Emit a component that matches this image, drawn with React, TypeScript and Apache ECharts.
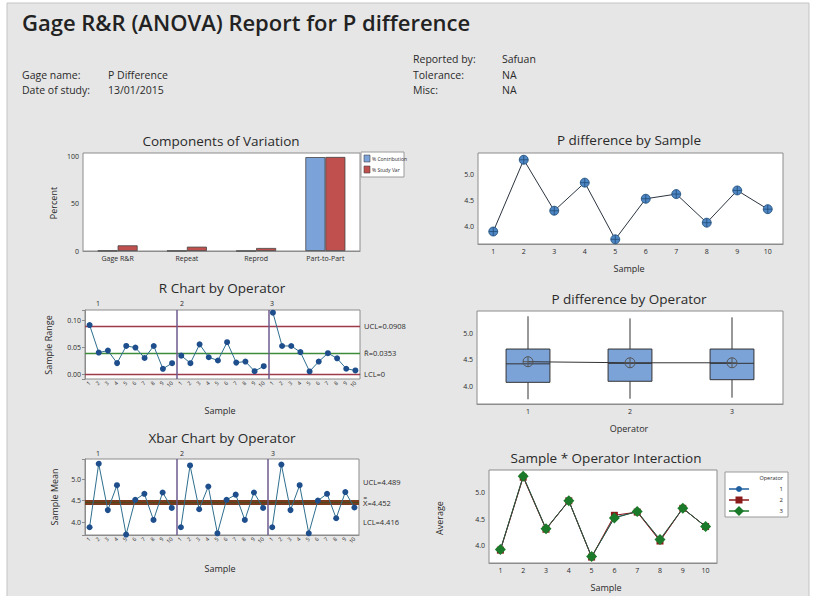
import React, { useEffect, useRef } from "react";
import * as echarts from "echarts";

// ---------- data ----------
const componentCats = ["Gage R&R", "Repeat", "Reprod", "Part-to-Part"];
const pctContribution = [0.36, 0.2, 0.1, 99.64];
const pctStudyVar = [6.0, 4.6, 3.2, 99.8];

const sampleLabels = ["1", "2", "3", "4", "5", "6", "7", "8", "9", "10"];
const sampleMeans = [3.91, 5.29, 4.31, 4.85, 3.76, 4.54, 4.63, 4.08, 4.7, 4.34];

const rOp1 = [0.092, 0.0407, 0.0444, 0.0211, 0.0531, 0.05, 0.0306, 0.053, 0.0105, 0.021];
const rOp2 = [0.035, 0.021, 0.056, 0.032, 0.026, 0.06, 0.022, 0.024, 0.006, 0.0154];
const rOp3 = [0.115, 0.053, 0.053, 0.0415, 0.0056, 0.024, 0.0396, 0.03, 0.0106, 0.0074];
const rUCL = 0.0908;
const rBar = 0.0353;
const rLCL = 0;

const xbarOp1 = [3.88, 5.36, 4.28, 4.86, 3.71, 4.52, 4.66, 4.05, 4.69, 4.33];
const xbarOp2 = [3.88, 5.32, 4.3, 4.83, 3.74, 4.52, 4.64, 4.05, 4.69, 4.33];
const xbarOp3 = [3.88, 5.34, 4.28, 4.86, 3.74, 4.5, 4.66, 4.09, 4.7, 4.34];
const xUCL = 4.489;
const xBar = 4.452;
const xLCL = 4.416;

const operators = ["1", "2", "3"];
// [lower whisker, Q1, median, Q3, upper whisker]
const boxStats = [
  [3.75, 4.07, 4.42, 4.7, 5.32],
  [3.76, 4.09, 4.43, 4.7, 5.28],
  [3.78, 4.12, 4.43, 4.7, 5.3],
];
const operatorMeans = [4.46, 4.44, 4.44];

const interOp1 = [3.92, 5.29, 4.31, 4.84, 3.79, 4.53, 4.64, 4.1, 4.7, 4.36];
const interOp2 = [3.92, 5.28, 4.31, 4.84, 3.79, 4.57, 4.63, 4.09, 4.7, 4.36];
const interOp3 = [3.93, 5.3, 4.32, 4.84, 3.8, 4.52, 4.64, 4.12, 4.7, 4.36];

// ---------- styling helpers ----------
const FONT = "'Open Sans', 'Noto Sans', sans-serif";
const BORDER = "#8c8c8c";
const TXT = "#2a2a2a";
const OP_COLORS = ["#1f5f9f", "#8b1a1a", "#1a7a2a"];
const crossCircle =
  "path://M0,10a10,10 0 1,0 20,0a10,10 0 1,0 -20,0M10,0V20M0,10H20";

const stepFmt = (step: number, dec: number) => (v: number) => {
  const k = v / step;
  return Math.abs(k - Math.round(k)) < 1e-6 ? v.toFixed(dec) : "";
};

const longSamples = [...sampleLabels, ...sampleLabels, ...sampleLabels];
const padOp = (arr: number[], op: number) =>
  longSamples.map((_, i) => (Math.floor(i / 10) === op ? arr[i % 10] : "-"));

function text(x: number, y: number, t: string, size: number, opts: any = {}) {
  const align = opts.align || "left";
  return {
    type: "text",
    x,
    y,
    rotation: opts.rotation || 0,
    silent: true,
    z: 10,
    style: {
      text: t,
      fontSize: size,
      fontFamily: FONT,
      fontWeight: opts.weight || "normal",
      fill: opts.color || TXT,
      align,
      textAlign: align,
      verticalAlign: "middle",
      textVerticalAlign: "middle",
    },
  };
}

function grid(left: number, top: number, width: number, height: number) {
  return {
    left,
    top,
    width,
    height,
    show: true,
    backgroundColor: "#ffffff",
    borderColor: BORDER,
    borderWidth: 1,
  };
}

const axisBase = {
  axisLine: { lineStyle: { color: BORDER } },
  axisTick: { length: 3, lineStyle: { color: BORDER } },
  splitLine: { show: false },
};

function catX(data: string[], gridIndex: number, extra: any = {}) {
  return {
    type: "category",
    data,
    gridIndex,
    ...axisBase,
    axisTick: { ...axisBase.axisTick, alignWithLabel: true },
    axisLabel: { fontSize: 7, color: TXT, fontFamily: FONT, margin: 4, interval: 0, ...(extra.axisLabel || {}) },
  };
}

function valY(gridIndex: number, min: number, max: number, step: number, dec: number) {
  return {
    type: "value",
    gridIndex,
    min,
    max,
    splitNumber: 3,
    minInterval: step,
    maxInterval: step,
    ...axisBase,
    axisLabel: { fontSize: 7, color: TXT, fontFamily: FONT, margin: 4, formatter: stepFmt(step, dec) },
  };
}

function hiddenX(gridIndex: number) {
  return { type: "value", gridIndex, min: 0, max: 30, show: false };
}

const dividerLine = {
  silent: true,
  symbol: "none",
  label: { show: false },
  lineStyle: { color: "#6e5a8e", type: "solid", width: 1.5 },
  data: [{ xAxis: 10 }, { xAxis: 20 }],
};

function controlLines(
  items: { v: number; label: string; color: string; dy: number }[],
  width: number
) {
  return {
    silent: true,
    symbol: "none",
    data: items.map((it) => ({
      yAxis: it.v,
      lineStyle: { color: it.color, type: "solid", width },
      label: {
        show: true,
        position: "end",
        distance: 4,
        formatter: it.label,
        fontSize: 7.5,
        color: TXT,
        fontFamily: FONT,
        offset: [0, it.dy],
      },
    })),
  };
}

function opSeries(arr: number[], op: number, xi: number, yi: number) {
  return {
    type: "line",
    xAxisIndex: xi,
    yAxisIndex: yi,
    data: padOp(arr, op),
    connectNulls: false,
    symbol: "circle",
    symbolSize: 6,
    lineStyle: { color: "#2e6e8e", width: 1 },
    itemStyle: { color: "#1e4f8c" },
    z: 5,
  };
}

function buildOption(): any {
  const graphics: any[] = [
    {
      type: "rect",
      shape: { x: 7, y: 3, width: 802, height: 600 },
      style: { fill: "#e6e6e6", stroke: "#c4c4c4", lineWidth: 1 },
      silent: true,
      z: -10,
    },
    text(22, 22, "Gage R&R (ANOVA) Report for P difference", 22, { weight: 600, color: "#222" }),
    text(22, 75, "Gage name:", 10.5),
    text(108, 75, "P Difference", 10.5),
    text(22, 90, "Date of study:", 10.5),
    text(108, 90, "13/01/2015", 10.5),
    text(413, 59, "Reported by:", 10.5),
    text(502, 59, "Safuan", 10.5),
    text(413, 75, "Tolerance:", 10.5),
    text(502, 75, "NA", 10.5),
    text(413, 90, "Misc:", 10.5),
    text(502, 90, "NA", 10.5),
    // panel titles
    text(221, 141, "Components of Variation", 13.5, { align: "center" }),
    text(629, 140, "P difference by Sample", 13.5, { align: "center" }),
    text(222, 288, "R Chart by Operator", 13.5, { align: "center" }),
    text(629, 299, "P difference by Operator", 13.5, { align: "center" }),
    text(222, 438, "Xbar Chart by Operator", 13.5, { align: "center" }),
    text(606, 458, "Sample * Operator Interaction", 13.5, { align: "center" }),
    // axis names
    text(53, 203, "Percent", 9, { align: "center", rotation: Math.PI / 2 }),
    text(48, 345, "Sample Range", 9, { align: "center", rotation: Math.PI / 2 }),
    text(54, 497, "Sample Mean", 9, { align: "center", rotation: Math.PI / 2 }),
    text(439, 518, "Average", 9, { align: "center", rotation: Math.PI / 2 }),
    text(629, 268, "Sample", 9, { align: "center" }),
    text(220, 410, "Sample", 9, { align: "center" }),
    text(629, 428, "Operator", 9, { align: "center" }),
    text(220, 568, "Sample", 9, { align: "center" }),
    text(606, 587, "Sample", 9, { align: "center" }),
    // operator panel labels
    text(98, 303, operators[0], 7, { align: "center" }),
    text(182, 303, operators[1], 7, { align: "center" }),
    text(272, 303, operators[2], 7, { align: "center" }),
    text(98, 453, operators[0], 7, { align: "center" }),
    text(182, 453, operators[1], 7, { align: "center" }),
    text(273, 453, operators[2], 7, { align: "center" }),
    // components legend
    {
      type: "rect",
      shape: { x: 361, y: 152, width: 43, height: 25 },
      style: { fill: "#ffffff", stroke: "#9a9a9a", lineWidth: 1 },
      silent: true,
    },
    {
      type: "rect",
      shape: { x: 364, y: 155, width: 6, height: 7 },
      style: { fill: "#7ba3d9", stroke: "#444", lineWidth: 0.6 },
      silent: true,
    },
    {
      type: "rect",
      shape: { x: 364, y: 166, width: 6, height: 7 },
      style: { fill: "#c0504d", stroke: "#444", lineWidth: 0.6 },
      silent: true,
    },
    text(372, 158.5, "% Contribution", 5),
    text(372, 169.5, "% Study Var", 5),
    // interaction legend
    {
      type: "rect",
      shape: { x: 725, y: 472, width: 63, height: 45 },
      style: { fill: "#ffffff", stroke: "#9a9a9a", lineWidth: 1 },
      silent: true,
    },
    text(783, 478, "Operator", 5.5, { align: "right" }),
  ];

  const legendYs = [489, 500, 511];
  legendYs.forEach((y, i) => {
    graphics.push({
      type: "line",
      shape: { x1: 729, y1: y, x2: 749, y2: y },
      style: { stroke: OP_COLORS[i], lineWidth: 1.5 },
      silent: true,
    });
    if (i === 0)
      graphics.push({ type: "circle", shape: { cx: 739, cy: y, r: 3 }, style: { fill: OP_COLORS[i] }, silent: true });
    if (i === 1)
      graphics.push({
        type: "rect",
        shape: { x: 735.5, y: y - 3.5, width: 7, height: 7 },
        style: { fill: OP_COLORS[i] },
        silent: true,
      });
    if (i === 2)
      graphics.push({
        type: "polygon",
        shape: { points: [[739, y - 5], [744, y], [739, y + 5], [734, y]] },
        style: { fill: OP_COLORS[i] },
        silent: true,
      });
    graphics.push(text(783, y, operators[i], 6, { align: "right" }));
  });

  const rotLabels = { axisLabel: { rotate: 45, fontSize: 5.5, margin: 3 } };

  return {
    animation: false,
    backgroundColor: "#ffffff",
    textStyle: { fontFamily: FONT },
    grid: [
      grid(83, 153, 277, 98), // 0 components
      grid(478, 153, 305, 91), // 1 by sample
      grid(85, 310, 275, 69), // 2 R chart
      grid(477, 311, 306, 93), // 3 by operator
      grid(85, 459, 274, 76), // 4 Xbar chart
      grid(489, 470, 228, 93), // 5 interaction
    ],
    xAxis: [
      catX(componentCats, 0),
      catX(sampleLabels, 1),
      catX(longSamples, 2, rotLabels),
      hiddenX(2),
      catX(operators, 3),
      catX(longSamples, 4, rotLabels),
      hiddenX(4),
      catX(sampleLabels, 5),
    ],
    yAxis: [
      valY(0, 0, 104, 50, 0),
      valY(1, 3.67, 5.42, 0.5, 1),
      valY(2, -0.0085, 0.12, 0.05, 2),
      valY(3, 3.66, 5.42, 0.5, 1),
      valY(4, 3.7, 5.47, 0.5, 1),
      valY(5, 3.68, 5.415, 0.5, 1),
    ],
    graphic: { elements: graphics },
    series: [
      // Components of variation
      {
        type: "bar",
        name: "% Contribution",
        xAxisIndex: 0,
        yAxisIndex: 0,
        data: pctContribution,
        barWidth: 20,
        barGap: "0%",
        itemStyle: { color: "#7ba3d9", borderColor: "#444", borderWidth: 0.8 },
      },
      {
        type: "bar",
        name: "% Study Var",
        xAxisIndex: 0,
        yAxisIndex: 0,
        data: pctStudyVar,
        barWidth: 20,
        barGap: "0%",
        itemStyle: { color: "#c0504d", borderColor: "#444", borderWidth: 0.8 },
      },
      // P difference by Sample
      {
        type: "line",
        xAxisIndex: 1,
        yAxisIndex: 1,
        data: sampleMeans,
        symbol: crossCircle,
        symbolSize: 9,
        lineStyle: { color: "#2b3440", width: 1 },
        itemStyle: { color: "#4f86c4", borderColor: "#1f4e79", borderWidth: 0.8 },
      },
      // R chart
      opSeries(rOp1, 0, 2, 2),
      opSeries(rOp2, 1, 2, 2),
      opSeries(rOp3, 2, 2, 2),
      {
        type: "line",
        xAxisIndex: 3,
        yAxisIndex: 2,
        data: [[0, rBar]],
        showSymbol: false,
        lineStyle: { opacity: 0 },
        z: 3,
        markLine: {
          ...controlLines(
            [
              { v: rUCL, label: `UCL=${rUCL}`, color: "#9e3b4b", dy: 0 },
              { v: rBar, label: `R\u0304=${rBar}`, color: "#3c8c3c", dy: 0 },
              { v: rLCL, label: `LCL=${rLCL}`, color: "#9e3b4b", dy: 0 },
            ],
            1.3
          ),
        },
      },
      {
        type: "line",
        xAxisIndex: 3,
        yAxisIndex: 2,
        data: [[0, rBar]],
        showSymbol: false,
        lineStyle: { opacity: 0 },
        z: 4,
        markLine: dividerLine,
      },
      // P difference by Operator (boxes)
      {
        type: "custom",
        xAxisIndex: 4,
        yAxisIndex: 3,
        data: boxStats.map((s, i) => [i, ...s]),
        encode: { x: 0, y: [1, 2, 3, 4, 5] },
        renderItem: (params: any, api: any) => {
          const x = api.value(0);
          const pLo = api.coord([x, api.value(1)]);
          const pQ1 = api.coord([x, api.value(2)]);
          const pMed = api.coord([x, api.value(3)]);
          const pQ3 = api.coord([x, api.value(4)]);
          const pHi = api.coord([x, api.value(5)]);
          const bw = api.size([1, 0])[0] * 0.43;
          const ls = { stroke: "#333", lineWidth: 1 };
          return {
            type: "group",
            children: [
              { type: "line", shape: { x1: pLo[0], y1: pLo[1], x2: pLo[0], y2: pQ1[1] }, style: ls },
              { type: "line", shape: { x1: pHi[0], y1: pHi[1], x2: pHi[0], y2: pQ3[1] }, style: ls },
              {
                type: "rect",
                shape: { x: pQ3[0] - bw / 2, y: pQ3[1], width: bw, height: pQ1[1] - pQ3[1] },
                style: { fill: "#7ba3d8", stroke: "#333", lineWidth: 1 },
              },
              {
                type: "line",
                shape: { x1: pMed[0] - bw / 2, y1: pMed[1], x2: pMed[0] + bw / 2, y2: pMed[1] },
                style: ls,
              },
            ],
          };
        },
        z: 2,
      },
      {
        type: "line",
        xAxisIndex: 4,
        yAxisIndex: 3,
        data: operatorMeans,
        symbol: crossCircle,
        symbolSize: 10,
        lineStyle: { color: "#333", width: 1 },
        itemStyle: { color: "rgba(0,0,0,0)", borderColor: "#555", borderWidth: 1 },
        z: 5,
      },
      // Xbar chart
      opSeries(xbarOp1, 0, 5, 4),
      opSeries(xbarOp2, 1, 5, 4),
      opSeries(xbarOp3, 2, 5, 4),
      {
        type: "line",
        xAxisIndex: 6,
        yAxisIndex: 4,
        data: [[0, xBar]],
        showSymbol: false,
        lineStyle: { opacity: 0 },
        z: 3,
        markLine: {
          ...controlLines(
            [
              { v: xUCL, label: `UCL=${xUCL}`, color: "#7a3a1e", dy: -19 },
              { v: xBar, label: `X\u033f=${xBar}`, color: "#4a4a1e", dy: 0 },
              { v: xLCL, label: `LCL=${xLCL}`, color: "#7a3a1e", dy: 18 },
            ],
            2.2
          ),
        },
      },
      {
        type: "line",
        xAxisIndex: 6,
        yAxisIndex: 4,
        data: [[0, xBar]],
        showSymbol: false,
        lineStyle: { opacity: 0 },
        z: 4,
        markLine: dividerLine,
      },
      // Interaction
      {
        type: "line",
        xAxisIndex: 7,
        yAxisIndex: 5,
        data: interOp1,
        symbol: "circle",
        symbolSize: 6,
        lineStyle: { color: OP_COLORS[0], width: 1 },
        itemStyle: { color: OP_COLORS[0] },
        z: 3,
      },
      {
        type: "line",
        xAxisIndex: 7,
        yAxisIndex: 5,
        data: interOp2,
        symbol: "rect",
        symbolSize: 7,
        lineStyle: { color: OP_COLORS[1], width: 1 },
        itemStyle: { color: OP_COLORS[1] },
        z: 4,
      },
      {
        type: "line",
        xAxisIndex: 7,
        yAxisIndex: 5,
        data: interOp3,
        symbol: "diamond",
        symbolSize: 11,
        lineStyle: { color: "#2a5a3a", width: 1 },
        itemStyle: { color: OP_COLORS[2] },
        z: 5,
      },
    ],
  };
}

export default function App() {
  const ref = useRef<HTMLDivElement>(null);
  useEffect(() => {
    if (!ref.current) return;
    const chart = echarts.init(ref.current, undefined, { renderer: "svg" });
    chart.setOption(buildOption());
    return () => chart.dispose();
  }, []);
  return (
    <div
      ref={ref}
      style={{ position: "fixed", left: 0, top: 0, width: 814, height: 596, background: "#fff" }}
    />
  );
}
